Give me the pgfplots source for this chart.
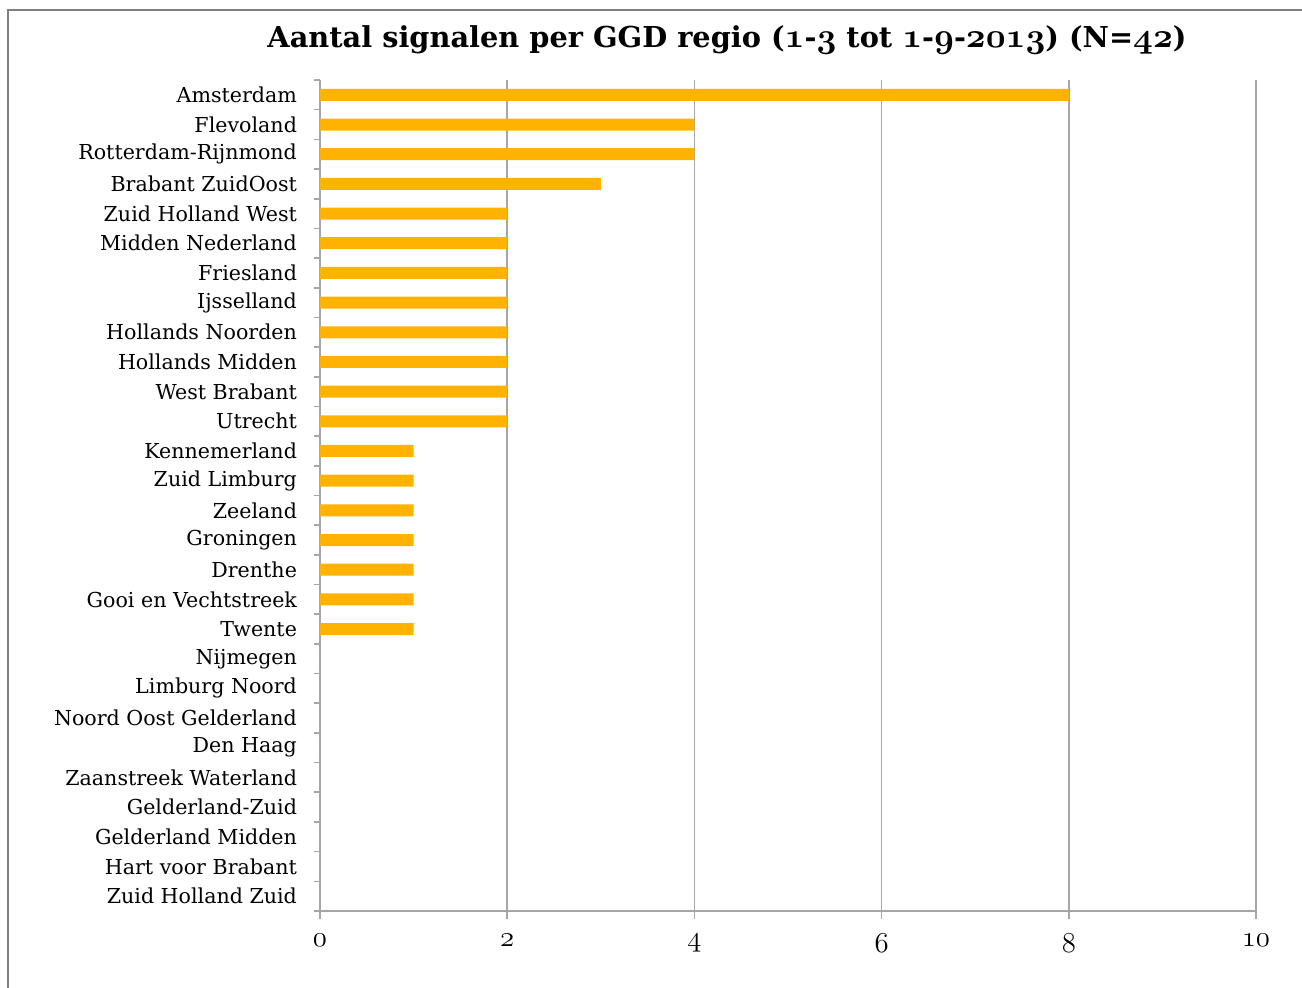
\documentclass[border=0pt]{standalone}
\usepackage{fontspec}
\setmainfont{DejaVu Serif}
\usepackage{pgfplots}
\pgfplotsset{compat=1.18}
\definecolor{barorange}{HTML}{FFB300}
\definecolor{gridgray}{HTML}{A6A6A6}
\newcommand\osn[1]{{\usefont{OML}{cmm}{m}{it}#1}}
\newcommand\osnb[1]{{\fontsize{17.5}{18}\usefont{OML}{cmm}{b}{it}#1}}
\begin{document}
\begin{tikzpicture}
\path[use as bounding box] (0,0) rectangle (651pt,494pt);
\draw[gray, line width=0.8pt] (4pt,0) -- (4pt,489pt) -- (651pt,489pt);
\node[font=\fontsize{14.4}{16}\selectfont\bfseries] at (363.5pt,474pt)
  {Aantal signalen per GGD regio (\osnb{1}-\osnb{3} tot \osnb{1}-\osnb{9}-\osnb{2013}) (N=\osnb{42})};
\begin{axis}[
  at={(160pt,38.5pt)}, anchor=south west,
  scale only axis, width=468pt, height=415.5pt,
  xbar, bar width=6pt,
  xmin=0, xmax=10, ymin=-0.5, ymax=27.5,
  axis lines*=left,
  axis line style={gridgray, line width=0.8pt},
  xmajorgrids, grid style={gridgray, line width=0.8pt},
  xtick={0,2,...,10},
  xticklabels={\osn{0},\osn{2},\osn{4},\osn{6},\osn{8},\osn{10}},
  xticklabel style={font=\fontsize{14}{15}\selectfont, yshift=-4pt},
  ytick={0,...,27},
  minor ytick={-0.5,0.5,...,27.5},
  tick align=outside,
  major tick length=4pt, minor tick length=3pt,
  tick style={gridgray, line width=0.8pt},
  major y tick style={draw=none},
  yticklabel style={font=\fontsize{10.3}{11}\selectfont, xshift=-4pt},
  yticklabels={Zuid Holland Zuid, Hart voor Brabant, Gelderland Midden, Gelderland-Zuid,
    Zaanstreek Waterland, Den Haag, Noord Oost Gelderland, Limburg Noord, Nijmegen,
    Twente, Gooi en Vechtstreek, Drenthe, Groningen, Zeeland, Zuid Limburg, Kennemerland,
    Utrecht, West Brabant, Hollands Midden, Hollands Noorden, Ijsselland, Friesland,
    Midden Nederland, Zuid Holland West, Brabant ZuidOost, Rotterdam-Rijnmond,
    Flevoland, Amsterdam},
]
\addplot[fill=barorange, draw=none] coordinates {
  (0,0) (0,1) (0,2) (0,3) (0,4) (0,5) (0,6) (0,7) (0,8)
  (1,9) (1,10) (1,11) (1,12) (1,13) (1,14) (1,15)
  (2,16) (2,17) (2,18) (2,19) (2,20) (2,21) (2,22) (2,23)
  (3,24) (4,25) (4,26) (8,27)
};
\end{axis}
\end{tikzpicture}
\end{document}
